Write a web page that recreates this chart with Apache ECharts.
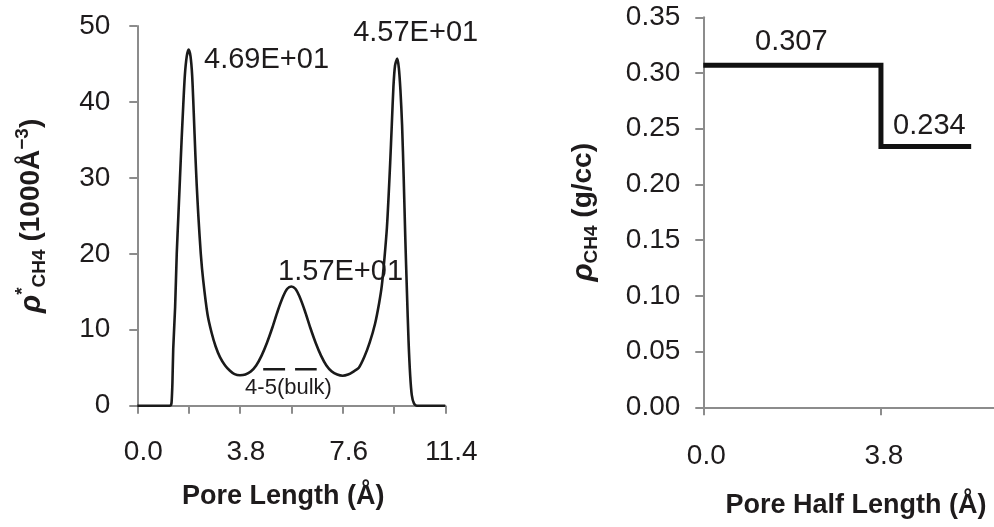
<!DOCTYPE html>
<html>
<head>
<meta charset="utf-8">
<script src="https://cdn.jsdelivr.net/npm/echarts@6/dist/echarts.min.js"></script>
<style>
html,body{margin:0;padding:0;background:#fff;}
#chart{width:994px;height:527px;}
</style>
</head>
<body>
<div id="chart"></div>
<script>
// ---- Left panel: density profile across the pore ----
const poreX = [0,1.0,1.2,1.25,1.27,1.30,1.33,1.40,1.46,1.52,1.58,1.64,1.70,1.76,1.83,1.90,1.97,2.03,2.09,2.15,2.20,2.26,2.35,2.44,2.60,2.75,2.90,3.06,3.25,3.43,3.60,3.80,
  4.00,4.20,4.40,4.60,4.80,5.00,5.20,5.40,5.55,5.70,5.85,6.00,6.20,6.40,6.60,6.80,7.00,7.20,7.40,7.60,
  7.80,8.00,8.20,8.40,8.60,8.80,8.95,9.05,9.15,9.24,9.30,9.36,9.42,9.48,9.54,9.62,9.68,9.74,9.80,9.86,9.92,9.98,10.04,10.10,10.16,10.24,10.35,10.6,11.4];
const poreRho = [0,0,0,0.1,0.5,3,7.5,13,20,25,30,35,39.5,43.5,46,46.9,46,43.5,38.5,33,29,25,20,16.5,12.0,9.6,7.8,6.4,5.3,4.6,4.15,4.0,
  4.1,4.5,5.3,6.6,8.3,10.3,12.5,14.4,15.4,15.7,15.4,14.4,12.5,10.3,8.3,6.6,5.3,4.5,4.1,3.95,
  4.1,4.5,5.0,6.4,8.3,10.8,13.5,15.8,19.5,23.5,27.5,32,37,42,44.8,45.7,44.5,41.5,37,30,22,15,8.5,4,1.4,0.3,0,0,0];
const bulkX = [4.66, 5.47, 5.65, 5.84, 6.64];
const bulkY = [4.8, 4.8, null, 4.8, 4.8];
const leftNotes = [
  {x: 2.47, y: 45.5, text: '4.69E+01', size: 29},
  {x: 7.99, y: 49.1, text: '4.57E+01', size: 29},
  {x: 5.21, y: 17.65, text: '1.57E+01', size: 29},
  {x: 3.99, y: 2.3, text: '4-5(bulk)', size: 22}
];
const leftXTicks = [0, 3.8, 7.6, 11.4];
const leftYTicks = [0, 10, 20, 30, 40, 50];

// ---- Right panel: average density by region ----
const halfX = [0, 3.8, 5.73];
const halfRho = [0.307, 0.234, 0.234];
const rightNotes = [
  {x: 1.107, y: 0.328, text: '0.307', size: 29},
  {x: 4.06, y: 0.2525, text: '0.234', size: 29}
];
const rightYTicks = [0, 0.05, 0.10, 0.15, 0.20, 0.25, 0.30, 0.35];

const FONT = '"Liberation Sans", Arial, Helvetica, sans-serif';
const TXT = '#1e1b1c';
const AX = '#8c8c8c';

const chart = echarts.init(document.getElementById('chart'), null, {renderer: 'canvas'});

function axisCommon() {
  return {
    axisLine: {show: true, onZero: false, lineStyle: {color: AX, width: 2}},
    axisTick: {show: true, length: 8, lineStyle: {color: AX, width: 2}},
    splitLine: {show: false}
  };
}

const richY = {
  r: {fontFamily: FONT, fontSize: 30, fontStyle: 'italic', fontWeight: 'bold', color: TXT, lineHeight: 36, verticalAlign: 'middle'},
  sup: {fontFamily: FONT, fontSize: 19, fontWeight: 'bold', color: TXT, lineHeight: 16, verticalAlign: 'top'},
  sub: {fontFamily: FONT, fontSize: 19, fontWeight: 'bold', color: TXT, lineHeight: 18, verticalAlign: 'bottom'},
  b: {fontFamily: FONT, fontSize: 28, fontWeight: 'bold', color: TXT, lineHeight: 36, verticalAlign: 'middle'}
};

const noteLabel = n => ({show: true, position: 'right', distance: 0, formatter: n.text, fontSize: n.size, fontFamily: FONT, color: TXT, opacity: 1});

const option = {
  backgroundColor: '#ffffff',
  animation: false,
  grid: [
    {left: 137.3, right: 548.7, top: 26, bottom: 121.3, containLabel: false, outerBoundsMode: 'none'},
    {left: 703.3, right: -64.6, top: 17.3, bottom: 119.7, containLabel: false, outerBoundsMode: 'none'}
  ],
  xAxis: [
    Object.assign(axisCommon(), {
      type: 'value', gridIndex: 0, min: leftXTicks[0], max: leftXTicks[leftXTicks.length - 1], interval: 3.8,
      minorTick: {show: true, splitNumber: 2, length: 8, lineStyle: {color: AX, width: 2}},
      axisLabel: {color: TXT, fontFamily: FONT, fontSize: 28, margin: 33, padding: [0, 0, 0, 12], formatter: v => v.toFixed(1)},
      name: 'Pore Length (Å)', nameLocation: 'middle', nameGap: 77,
      nameTextStyle: {fontFamily: FONT, fontSize: 27, fontWeight: 'bold', color: TXT, padding: [0, 16, 0, 0]}
    }),
    Object.assign(axisCommon(), {
      type: 'value', gridIndex: 1, min: 0, max: 7.6, interval: 3.8,
      axisLabel: {color: TXT, fontFamily: FONT, fontSize: 28, margin: 35, padding: [0, 0, 0, 6], formatter: v => v.toFixed(1)},
      name: 'Pore Half Length (Å)', nameLocation: 'middle', nameGap: 85,
      nameTextStyle: {fontFamily: FONT, fontSize: 27, fontWeight: 'bold', color: TXT, padding: [0, 50, 0, 0]}
    })
  ],
  yAxis: [
    Object.assign(axisCommon(), {
      type: 'value', gridIndex: 0, min: leftYTicks[0], max: leftYTicks[leftYTicks.length - 1], interval: 10,
      axisLabel: {color: TXT, fontFamily: FONT, fontSize: 28, margin: 27},
      name: '{r|ρ}{sup|*}{sub|CH4}{b| (1000Å}{sup|−3}{b|)}', nameLocation: 'middle', nameRotate: 90, nameGap: 88,
      nameTextStyle: {rich: richY}
    }),
    Object.assign(axisCommon(), {
      type: 'value', gridIndex: 1, min: rightYTicks[0], max: rightYTicks[rightYTicks.length - 1], interval: 0.05,
      axisLabel: {color: TXT, fontFamily: FONT, fontSize: 28, margin: 23, formatter: v => v.toFixed(2)},
      name: '{r|ρ}{sub|CH4}{b| (g/cc)}', nameLocation: 'middle', nameRotate: 90, nameGap: 102,
      nameTextStyle: {rich: richY}
    })
  ],
  series: [
    {
      type: 'line', xAxisIndex: 0, yAxisIndex: 0, smooth: 0.25, symbol: 'none',
      lineStyle: {color: '#1a1a1a', width: 2.6},
      data: poreX.map((x, i) => [x, poreRho[i]]), z: 3
    },
    {
      type: 'line', xAxisIndex: 0, yAxisIndex: 0, symbol: 'none', connectNulls: false,
      lineStyle: {color: '#1a1a1a', width: 2.6},
      data: bulkX.map((x, i) => [x, bulkY[i] === null ? '-' : bulkY[i]])
    },
    {
      type: 'scatter', xAxisIndex: 0, yAxisIndex: 0, symbolSize: 0, clip: false, silent: true, z: 2,
      itemStyle: {opacity: 1},
      data: leftNotes.map(n => ({value: [n.x, n.y], label: noteLabel(n)}))
    },
    {
      type: 'line', xAxisIndex: 1, yAxisIndex: 1, step: 'end', symbol: 'none',
      lineStyle: {color: '#111111', width: 5, join: 'miter', cap: 'butt'},
      data: halfX.map((x, i) => [x, halfRho[i]])
    },
    {
      type: 'scatter', xAxisIndex: 1, yAxisIndex: 1, symbolSize: 0, clip: false, silent: true,
      itemStyle: {opacity: 1},
      data: rightNotes.map(n => ({value: [n.x, n.y], label: noteLabel(n)}))
    }
  ]
};
chart.setOption(option);
</script>
</body>
</html>
